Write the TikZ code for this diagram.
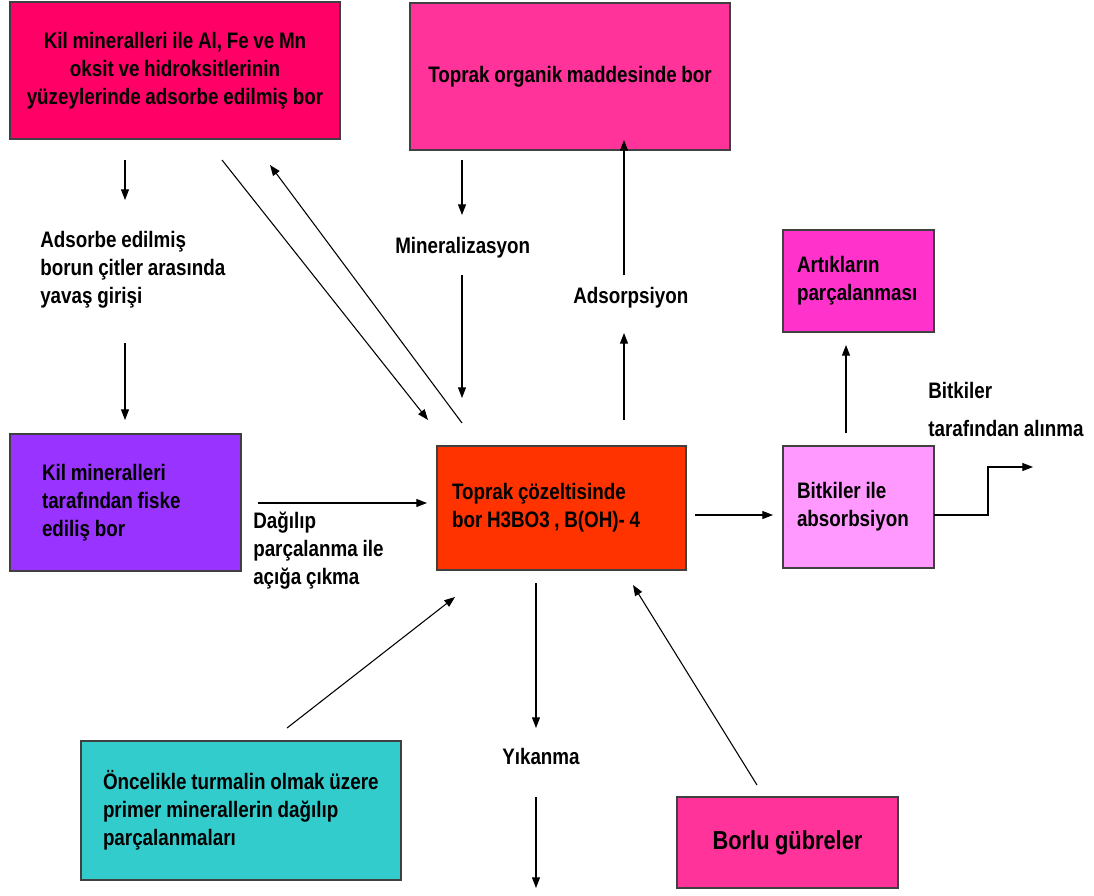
\documentclass[tikz,border=0pt]{standalone}
\usepackage{fontspec}
\setmainfont{Liberation Sans}[FakeStretch=0.84, WordSpace=0.9]
\usetikzlibrary{arrows.meta}
\newcommand\diafont{\fontsize{16.8}{21}\selectfont\bfseries}
\definecolor{kilpink}{HTML}{FF0066}
\definecolor{orgpink}{HTML}{FF3399}
\definecolor{artpink}{HTML}{FF33CC}
\definecolor{bitpink}{HTML}{FF99FF}
\definecolor{cozred}{HTML}{FF3300}
\definecolor{fikpurple}{HTML}{9933FF}
\definecolor{turteal}{HTML}{33CCCC}
\begin{document}
\begin{tikzpicture}[
  x=0.75pt, y=-0.75pt,
  box/.style={rectangle, draw=black!75, line width=0.8pt, inner ysep=0pt, align=flush left, font=\diafont},
  lbl/.style={inner sep=0pt, anchor=west, align=flush left, font=\diafont},
  arr/.style={-{Triangle[length=8pt,width=6pt]}, line width=0.8pt}
]
\useasboundingbox (0,0) rectangle (1094,895);

\node[box, fill=kilpink, align=flush center, text width=232.5pt, inner xsep=7.5pt, minimum height=102.75pt] (kil) at (175,70.5) {Kil mineralleri ile Al, Fe ve Mn\\oksit ve hidroksitlerinin\\yüzeylerinde adsorbe edilmiş bor};
\node[box, fill=orgpink, align=flush center, text width=225pt, inner xsep=7.5pt, minimum height=110.25pt] (organik) at (570,76.5) {Toprak organik maddesinde bor\\[8pt]};
\node[box, fill=artpink, text width=92.25pt, inner xsep=10.5pt, minimum height=76.5pt] (artik) at (858.5,281) {Artıkların\\parçalanması};
\node[box, fill=bitpink, text width=92.25pt, inner xsep=10.5pt, minimum height=91.5pt] (absorb) at (858.5,507) {Bitkiler ile\\absorbsiyon};
\node[box, fill=cozred, text width=164.25pt, inner xsep=11.25pt, minimum height=93pt] (cozelti) at (561.5,508) {Toprak çözeltisinde\\bor H3BO3 , B(OH)- 4};
\node[box, fill=fikpurple, text width=125.25pt, inner xsep=24pt, minimum height=102.75pt] (fiske) at (125.5,502.5) {Kil mineralleri\\tarafından fiske\\ediliş bor};
\node[box, fill=turteal, text width=207pt, inner xsep=16.5pt, minimum height=104.25pt] (turmalin) at (241,810.5) {Öncelikle turmalin olmak üzere\\primer minerallerin dağılıp\\parçalanmaları};
\node[box, fill=orgpink, align=flush center, text width=150pt, inner xsep=7.875pt, minimum height=68.25pt, font=\fontsize{19.5}{23}\selectfont\bfseries] (gubre) at (787.5,842.5) {Borlu gübreler};

\node[lbl] (adsorbe) at (40,270) {Adsorbe edilmiş\\borun çitler arasında\\yavaş girişi};
\node[lbl] (mineral) at (395,248) {Mineralizasyon};
\node[lbl] (adsorp) at (573,298) {Adsorpsiyon};
\node[lbl] (alinma) at (928,409) {Bitkiler\\[7.5pt]tarafından alınma};
\node[lbl] (dagilip) at (253,551) {Dağılıp\\parçalanma ile\\açığa çıkma};
\node[lbl] (yikanma) at (502,756) {Yıkanma};

\coordinate (a1s) at (125,160); \coordinate (a1e) at (125,200);
\coordinate (a2s) at (125,343); \coordinate (a2e) at (125,420);
\coordinate (d1s) at (222,160); \coordinate (d1e) at (428,420);
\coordinate (d2s) at (462,423); \coordinate (d2e) at (270,165);
\coordinate (m1s) at (462,160); \coordinate (m1e) at (462,215);
\coordinate (m2s) at (462,275); \coordinate (m2e) at (462,398);
\coordinate (p1s) at (624,275); \coordinate (p1e) at (624,140);
\coordinate (p2s) at (624,420); \coordinate (p2e) at (624,333);
\coordinate (r1s) at (695,515); \coordinate (r1e) at (773,515);
\coordinate (u1s) at (846,433); \coordinate (u1e) at (846,345);
\coordinate (s1s) at (934,515); \coordinate (s1a) at (988,515);
\coordinate (s1b) at (988,467); \coordinate (s1e) at (1033,467);
\coordinate (g1s) at (258,503); \coordinate (g1e) at (427,503);
\coordinate (t1s) at (287,728); \coordinate (t1e) at (455,597);
\coordinate (b1s) at (757,785); \coordinate (b1e) at (633,585);
\coordinate (y1s) at (536,583); \coordinate (y1e) at (536,728);
\coordinate (y2s) at (536,797); \coordinate (y2e) at (536,888);

\draw[arr] (a1s) -- (a1e);
\draw[arr] (a2s) -- (a2e);
\draw[arr] (d1s) -- (d1e);
\draw[arr] (d2s) -- (d2e);
\draw[arr] (m1s) -- (m1e);
\draw[arr] (m2s) -- (m2e);
\draw[arr] (p1s) -- (p1e);
\draw[arr] (p2s) -- (p2e);
\draw[arr] (r1s) -- (r1e);
\draw[arr] (u1s) -- (u1e);
\draw[arr] (s1s) -- (s1a) -- (s1b) -- (s1e);
\draw[arr] (g1s) -- (g1e);
\draw[arr] (t1s) -- (t1e);
\draw[arr] (b1s) -- (b1e);
\draw[arr] (y1s) -- (y1e);
\draw[arr] (y2s) -- (y2e);
\end{tikzpicture}
\end{document}
